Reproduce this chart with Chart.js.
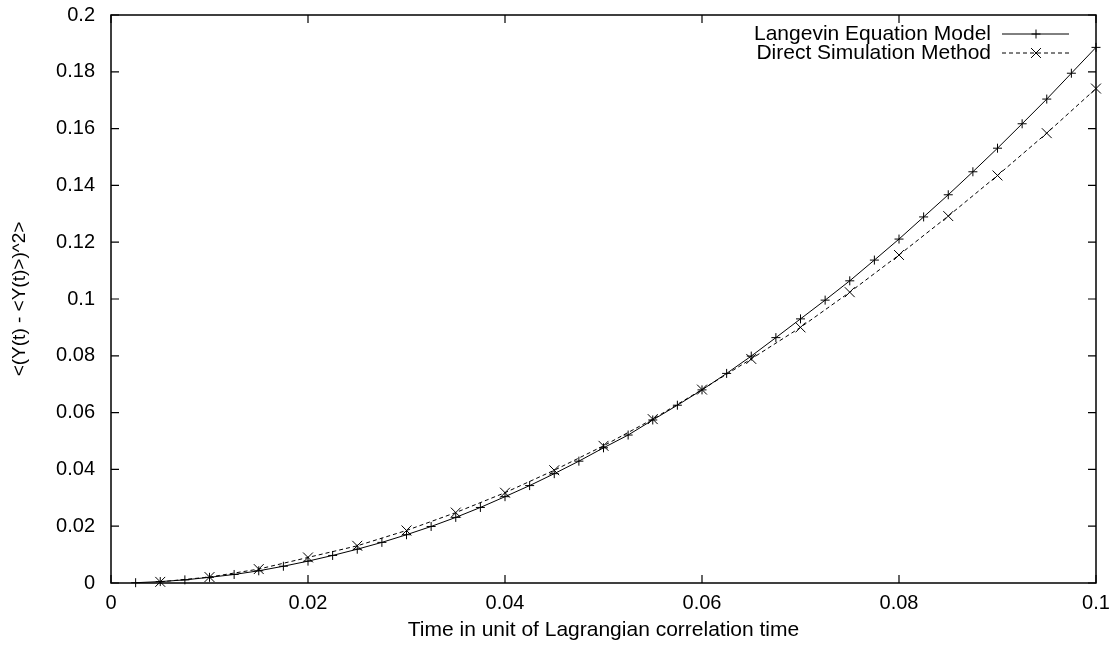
<!DOCTYPE html>
<html>
<head>
<meta charset="utf-8">
<script src="https://cdn.jsdelivr.net/npm/chart.js@4/dist/chart.umd.min.js"></script>
<style>
html,body{margin:0;padding:0;background:#fff;}
#wrap{width:1112px;height:645px;}
</style>
</head>
<body>
<div id="wrap"><canvas id="c" width="1112" height="645"></canvas></div>
<script>
// ---- data ----
const seriesNames = ["Langevin Equation Model", "Direct Simulation Method"];
const xTitle = "Time in unit of Lagrangian correlation time";
const yTitle = "<(Y(t) - <Y(t)>)^2>";

const langevinX = [0.0025,0.005,0.0075,0.01,0.0125,0.015,0.0175,0.02,0.0225,0.025,
  0.0275,0.03,0.0325,0.035,0.0375,0.04,0.0425,0.045,0.0475,0.05,
  0.0525,0.055,0.0575,0.06,0.0625,0.065,0.0675,0.07,0.0725,0.075,
  0.0775,0.08,0.0825,0.085,0.0875,0.09,0.0925,0.095,0.0975,0.1];
const langevinY = [0.0001,0.0005,0.0011,0.002,0.003,0.0043,0.0059,0.0077,0.0097,0.0119,
  0.0143,0.017,0.0199,0.0231,0.0266,0.0304,0.0343,0.0385,0.0429,0.0476,
  0.0521,0.0574,0.0626,0.068,0.0738,0.0799,0.0864,0.093,0.0996,0.1064,
  0.1137,0.1211,0.1289,0.1367,0.1448,0.1531,0.1617,0.1704,0.1795,0.1886];

const dsmX = [0.005,0.01,0.015,0.02,0.025,0.03,0.035,0.04,0.045,0.05,
  0.055,0.06,0.065,0.07,0.075,0.08,0.085,0.09,0.095,0.1];
const dsmY = [0.0004,0.0021,0.0049,0.009,0.0131,0.0185,0.0248,0.0318,0.0397,0.0483,
  0.0577,0.0681,0.0789,0.09,0.1024,0.1155,0.1292,0.1435,0.1584,0.1741];

const xTickValues = [0,0.02,0.04,0.06,0.08,0.1];
const xTickLabels = ["0","0.02","0.04","0.06","0.08","0.1"];
const yTickValues = [0,0.02,0.04,0.06,0.08,0.1,0.12,0.14,0.16,0.18,0.2];
const yTickLabels = ["0","0.02","0.04","0.06","0.08","0.1","0.12","0.14","0.16","0.18","0.2"];

// ---- chart ----
const FONT = "'Liberation Sans', Arial, Helvetica, sans-serif";
const toPts = (xs, ys) => xs.map((x, i) => ({x: x, y: ys[i]}));
const zeroPad = s => { s.paddingLeft = 0; s.paddingRight = 0; s.paddingTop = 0; s.paddingBottom = 0; };

const framePlugin = {
  id: 'frame',
  afterDraw(chart) {
    const {ctx, chartArea: a, scales} = chart;
    ctx.save();
    ctx.strokeStyle = '#000';
    ctx.lineWidth = 1.5;
    ctx.strokeRect(a.left, a.top, a.right - a.left, a.bottom - a.top);
    const tl = 8;
    ctx.lineWidth = 1.2;
    ctx.beginPath();
    scales.x.ticks.forEach(t => {
      const px = scales.x.getPixelForValue(t.value);
      ctx.moveTo(px, a.bottom); ctx.lineTo(px, a.bottom - tl);
      ctx.moveTo(px, a.top); ctx.lineTo(px, a.top + tl);
    });
    scales.y.ticks.forEach(t => {
      const py = scales.y.getPixelForValue(t.value);
      ctx.moveTo(a.left, py); ctx.lineTo(a.left + tl, py);
      ctx.moveTo(a.right, py); ctx.lineTo(a.right - tl, py);
    });
    ctx.stroke();

    // legend (gnuplot style: text right-aligned, sample on the right)
    const textRight = 991, x0 = 1002, x1 = 1069, xm = 1036;
    const rows = [34, 53];
    ctx.font = "21px " + FONT;
    ctx.fillStyle = '#000';
    ctx.textAlign = 'right';
    ctx.textBaseline = 'middle';
    chart.data.datasets.forEach((ds, i) => {
      const y = rows[i];
      ctx.fillText(ds.label, textRight, y);
      ctx.lineWidth = 1;
      ctx.setLineDash(ds.borderDash || []);
      ctx.beginPath(); ctx.moveTo(x0, y); ctx.lineTo(x1, y); ctx.stroke();
      ctx.setLineDash([]);
      ctx.beginPath();
      if (ds.pointStyle === 'cross') {
        const r = ds.pointRadius;
        ctx.moveTo(xm - r, y); ctx.lineTo(xm + r, y);
        ctx.moveTo(xm, y - r); ctx.lineTo(xm, y + r);
      } else {
        const r = ds.pointRadius * Math.SQRT1_2;
        ctx.moveTo(xm - r, y - r); ctx.lineTo(xm + r, y + r);
        ctx.moveTo(xm - r, y + r); ctx.lineTo(xm + r, y - r);
      }
      ctx.stroke();
    });
    ctx.restore();
  }
};

new Chart(document.getElementById('c'), {
  type: 'scatter',
  data: {
    datasets: [
      {
        label: seriesNames[0],
        data: toPts(langevinX, langevinY),
        showLine: true,
        borderColor: '#000',
        backgroundColor: '#000',
        borderWidth: 1,
        pointStyle: 'cross',
        pointRadius: 4.5,
        pointBorderWidth: 1,
        pointBorderColor: '#000',
        tension: 0,
        clip: false
      },
      {
        label: seriesNames[1],
        data: toPts(dsmX, dsmY),
        showLine: true,
        borderColor: '#000',
        backgroundColor: '#000',
        borderWidth: 1,
        borderDash: [4, 3],
        pointStyle: 'crossRot',
        pointRadius: 7,
        pointBorderWidth: 1,
        pointBorderColor: '#000',
        tension: 0,
        clip: false
      }
    ]
  },
  options: {
    responsive: false,
    animation: false,
    devicePixelRatio: 1,
    layout: {padding: {top: 15, right: 16, left: 0, bottom: 0}},
    plugins: {legend: {display: false}, tooltip: {enabled: false}},
    scales: {
      x: {
        type: 'linear', min: 0, max: 0.1,
        grid: {display: false, drawTicks: false},
        border: {display: false},
        afterBuildTicks: s => { s.ticks = xTickValues.map(v => ({value: v})); },
        afterFit: s => { s.height = 62; zeroPad(s); },
        ticks: {
          color: '#000', padding: 8, maxRotation: 0, autoSkip: false,
          font: {family: FONT, size: 20},
          callback: (v) => xTickLabels[xTickValues.indexOf(v)]
        },
        title: {display: true, text: xTitle, color: '#000',
          font: {family: FONT, size: 21}, padding: {top: 0, bottom: 2}}
      },
      y: {
        type: 'linear', min: 0, max: 0.2,
        grid: {display: false, drawTicks: false},
        border: {display: false},
        afterBuildTicks: s => { s.ticks = yTickValues.map(v => ({value: v})); },
        afterFit: s => { s.width = 111; zeroPad(s); },
        ticks: {
          color: '#000', padding: 16, autoSkip: false,
          font: {family: FONT, size: 20},
          callback: (v) => yTickLabels[yTickValues.indexOf(v)]
        },
        title: {display: true, text: yTitle, color: '#000',
          font: {family: FONT, size: 19}, padding: {top: 8.6, bottom: 0}}
      }
    }
  },
  plugins: [framePlugin]
});
</script>
</body>
</html>
